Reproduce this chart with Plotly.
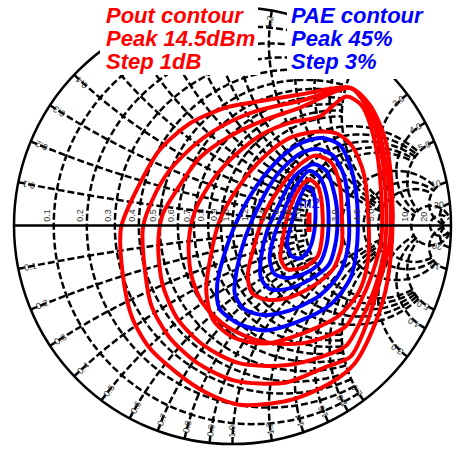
import numpy as np
import plotly.graph_objects as go

# Smith chart grid: normalized resistance / reactance values and their labels
grid_values = [0.1, 0.2, 0.3, 0.4, 0.5, 0.6, 0.7, 0.8, 0.9, 1.0,
               1.2, 1.4, 1.6, 1.8, 2.0, 3.0, 4.0, 5.0, 10, 20]
grid_labels = ["0.1", "0.2", "0.3", "0.4", "0.5", "0.6", "0.7", "0.8", "0.9", "1.0",
               "1.2", "1.4", "1.6", "1.8", "2.0", "3.0", "4.0", "5.0", "10", "20"]
# how far each grid circle / arc runs before it stops (classic chart detail levels)
grid_extent = [2.0] * 10 + [5.0] * 5 + [10.0] * 3 + [60.0] * 2

# Load-pull contours, reflection coefficient points (re, im)
pout_8dbm = [(0.54, 0.63), (0.31, 0.60), (0.13, 0.57), (-0.03, 0.54), (-0.19, 0.47),
             (-0.33, 0.35), (-0.43, 0.18), (-0.51, -0.01), (-0.50, -0.24), (-0.46, -0.42),
             (-0.38, -0.56), (-0.26, -0.67), (-0.13, -0.76), (0.03, -0.82), (0.26, -0.80),
             (0.45, -0.72), (0.56, -0.63), (0.64, -0.48), (0.70, -0.30), (0.73, -0.07),
             (0.73, 0.16), (0.70, 0.39), (0.63, 0.55)]
pout_9dbm = [(0.54, 0.63), (0.31, 0.57), (0.13, 0.53), (-0.02, 0.47), (-0.16, 0.38),
             (-0.29, 0.25), (-0.37, 0.11), (-0.41, -0.01), (-0.40, -0.21), (-0.37, -0.37),
             (-0.29, -0.51), (-0.16, -0.63), (0.01, -0.71), (0.24, -0.72), (0.42, -0.65),
             (0.54, -0.60), (0.61, -0.46), (0.67, -0.27), (0.72, -0.07), (0.72, 0.16),
             (0.68, 0.39), (0.62, 0.55)]
pout_10dbm = [(0.54, 0.63), (0.31, 0.54), (0.14, 0.48), (-0.01, 0.41), (-0.15, 0.31),
              (-0.25, 0.17), (-0.32, 0.05), (-0.34, -0.09), (-0.32, -0.27), (-0.25, -0.43),
              (-0.13, -0.55), (0.03, -0.63), (0.24, -0.64), (0.41, -0.60), (0.52, -0.55),
              (0.59, -0.43), (0.66, -0.26), (0.70, -0.07), (0.70, 0.16), (0.67, 0.39),
              (0.61, 0.55)]
pout_11dbm = [(0.52, 0.59), (0.40, 0.50), (0.26, 0.47), (0.14, 0.42), (0.01, 0.32),
              (-0.09, 0.21), (-0.17, 0.07), (-0.20, -0.07), (-0.19, -0.22), (-0.14, -0.35),
              (-0.03, -0.46), (0.13, -0.53), (0.31, -0.54), (0.45, -0.50), (0.52, -0.46),
              (0.58, -0.36), (0.64, -0.22), (0.68, -0.07), (0.68, 0.16), (0.65, 0.39),
              (0.59, 0.55)]
pout_12dbm = [(0.39, 0.43), (0.48, 0.42), (0.55, 0.36), (0.60, 0.24), (0.62, 0.07),
              (0.62, -0.16), (0.58, -0.30), (0.49, -0.41), (0.33, -0.49), (0.15, -0.54),
              (0.00, -0.51), (-0.09, -0.43), (-0.12, -0.30), (-0.10, -0.14), (-0.06, 0.02),
              (0.03, 0.18), (0.14, 0.31), (0.26, 0.40)]
pout_13dbm = [(0.38, 0.32), (0.45, 0.29), (0.49, 0.19), (0.50, 0.06), (0.50, -0.09),
              (0.46, -0.20), (0.38, -0.27), (0.26, -0.33), (0.16, -0.34), (0.09, -0.31),
              (0.07, -0.23), (0.10, -0.09), (0.15, 0.06), (0.23, 0.19), (0.31, 0.28)]
pout_14dbm = [(0.35, 0.21), (0.39, 0.18), (0.41, 0.09), (0.41, -0.05), (0.39, -0.14),
              (0.33, -0.19), (0.25, -0.20), (0.22, -0.15), (0.23, -0.06), (0.26, 0.07),
              (0.30, 0.16)]
pout_peak = [(0.35, 0.06), (0.35, -0.03)]

pae_30 = [(0.41, 0.40), (0.49, 0.37), (0.54, 0.27), (0.57, 0.11), (0.57, -0.09),
          (0.54, -0.24), (0.45, -0.36), (0.30, -0.44), (0.15, -0.48), (0.03, -0.45),
          (-0.06, -0.38), (-0.07, -0.27), (-0.04, -0.14), (0.02, 0.02), (0.11, 0.18),
          (0.22, 0.31), (0.32, 0.38)]
pae_33 = [(0.39, 0.35), (0.46, 0.32), (0.51, 0.23), (0.53, 0.09), (0.53, -0.09),
          (0.49, -0.22), (0.40, -0.32), (0.26, -0.39), (0.14, -0.41), (0.05, -0.38),
          (0.01, -0.31), (0.02, -0.20), (0.06, -0.05), (0.13, 0.11), (0.21, 0.24),
          (0.31, 0.33)]
pae_36 = [(0.37, 0.28), (0.43, 0.25), (0.46, 0.17), (0.48, 0.05), (0.47, -0.09),
          (0.44, -0.18), (0.35, -0.25), (0.25, -0.29), (0.17, -0.29), (0.13, -0.24),
          (0.13, -0.15), (0.16, -0.02), (0.22, 0.11), (0.28, 0.22)]
pae_39 = [(0.35, 0.25), (0.40, 0.22), (0.43, 0.14), (0.44, 0.02), (0.43, -0.09),
          (0.40, -0.17), (0.33, -0.22), (0.25, -0.24), (0.19, -0.22), (0.17, -0.15),
          (0.19, -0.05), (0.24, 0.08), (0.29, 0.18)]
pae_42 = [(0.34, 0.18), (0.37, 0.15), (0.38, 0.07), (0.37, -0.05), (0.35, -0.11),
          (0.31, -0.15), (0.27, -0.14), (0.25, -0.08), (0.27, 0.01), (0.30, 0.11)]

pout_contours = [pout_8dbm, pout_9dbm, pout_10dbm, pout_11dbm, pout_12dbm, pout_13dbm, pout_14dbm]
pae_contours = [pae_30, pae_33, pae_36, pae_39, pae_42]

RED = "#ff0000"
BLUE = "#0000ff"
GRID_DASH = "7px,3px"

# figure geometry (pixels)
W, H = 461, 454
ML, MR, MT, MB = 14, 10, 7, 10
PW, PH = W - ML - MR, H - MT - MB


def to_impedance(points, close=True):
    g = np.array([complex(a, b) for a, b in points])
    if close:
        g = np.append(g, g[0])
    z = (1 + g) / (1 - g)
    return z.real, z.imag


def px_to_paper(px, py):
    return (px - ML) / PW, (H - MB - py) / PH


def gamma_to_px(g):
    return ML + PW * (0.5 + g.real / 2), MT + PH * (0.5 - g.imag / 2)


fig = go.Figure()

# dashed grid: constant-resistance circles and constant-reactance arcs, each cut at its extent
grid_line = dict(color="black", width=2.5, dash=GRID_DASH)
for v, ext in zip(grid_values, grid_extent):
    phi = np.linspace(-np.arctan(ext), np.arctan(ext), 241)
    fig.add_trace(go.Scattersmith(real=np.full(phi.size, v), imag=np.tan(phi), mode="lines",
                                  line=grid_line, hoverinfo="skip"))
    phi = np.linspace(0, np.arctan(ext), 161)
    for sgn in (1, -1):
        fig.add_trace(go.Scattersmith(real=np.tan(phi), imag=np.full(phi.size, sgn * v),
                                      mode="lines", line=grid_line, hoverinfo="skip"))

for pts in pout_contours:
    re, im = to_impedance(pts)
    fig.add_trace(go.Scattersmith(real=re, imag=im, mode="lines",
                                  line=dict(color=RED, width=4, shape="spline", smoothing=0.8),
                                  hoverinfo="skip"))
for pts in pae_contours:
    re, im = to_impedance(pts)
    fig.add_trace(go.Scattersmith(real=re, imag=im, mode="lines",
                                  line=dict(color=BLUE, width=4, shape="spline", smoothing=0.8),
                                  hoverinfo="skip"))
re, im = to_impedance(pout_peak, close=False)
fig.add_trace(go.Scattersmith(real=re, imag=im, mode="lines",
                              line=dict(color=RED, width=5), hoverinfo="skip"))

axis_style = dict(tickvals=grid_values, showticklabels=False, ticks="", showgrid=False,
                  linecolor="black", linewidth=2.5)

# white boxes behind the legend text
boxes = [(100, 0, 258, 75), (287, 0, 445, 79)]
shapes = []
for x0, y0, x1, y1 in boxes:
    a0, b0 = px_to_paper(x0, y1)
    a1, b1 = px_to_paper(x1, y0)
    shapes.append(dict(type="rect", xref="paper", yref="paper", x0=a0, y0=b0, x1=a1, y1=b1,
                       fillcolor="white", line=dict(width=0), layer="above"))


def in_box(px, py):
    return any(x0 - 4 <= px <= x1 + 4 and y0 <= py <= y1 + 4 for x0, y0, x1, y1 in boxes)


annotations = []
label_font = dict(family="Liberation Sans, Arial", size=9, color="#333333")

# labels along the real axis
for v, t in zip(grid_values, grid_labels):
    gx = (v - 1) / (v + 1)
    annotations.append(dict(x=0.5 + gx / 2, y=0.5, xref="paper", yref="paper", text=t,
                            showarrow=False, textangle=-90, xanchor="right", yanchor="bottom",
                            xshift=0, yshift=2, font=label_font))

# reactance labels just inside the outer circle
for v, t in zip(grid_values, grid_labels):
    for sgn in (1, -1):
        g = (1j * sgn * v - 1) / (1j * sgn * v + 1)
        theta = np.angle(g)
        gl = 0.95 * np.exp(1j * theta)
        px, py = gamma_to_px(gl)
        if in_box(px, py):
            continue
        ang = np.degrees(theta) % 180
        annotations.append(dict(x=0.5 + gl.real / 2, y=0.5 + gl.imag / 2, xref="paper", yref="paper",
                                text=("-" if sgn < 0 else "") + t, showarrow=False,
                                textangle=-ang, xanchor="center", yanchor="middle",
                                font=label_font))

title_font = dict(family="Liberation Sans, Arial", size=22)
pout_lines = ["Pout contour", "Peak 14.5dBm", "Step 1dB"]
pae_lines = ["PAE contour", "Peak 45%", "Step 3%"]
line_y = [15, 38, 61]
for lines, x0, col in ((pout_lines, 104, RED), (pae_lines, 289, BLUE)):
    for txt, yy in zip(lines, line_y):
        ax, ay = px_to_paper(x0, yy)
        annotations.append(dict(x=ax, y=ay, xref="paper", yref="paper",
                                text="<b><i>" + txt + "</i></b>", showarrow=False,
                                xanchor="left", yanchor="middle",
                                font=dict(title_font, color=col)))

# marker label near the PAE peak
mx, my = px_to_paper(309, 202)
annotations.append(dict(x=mx, y=my, xref="paper", yref="paper", text="m2", showarrow=False,
                        xanchor="center", yanchor="middle",
                        font=dict(family="Liberation Sans, Arial", size=15, color=BLUE)))

fig.update_layout(
    width=W, height=H,
    margin=dict(l=ML, r=MR, t=MT, b=MB),
    paper_bgcolor="white",
    showlegend=False,
    smith=dict(domain=dict(x=[0, 1], y=[0, 1]), bgcolor="white",
               realaxis=axis_style, imaginaryaxis=axis_style),
    shapes=shapes,
    annotations=annotations,
)

fig.write_html("out.html")
